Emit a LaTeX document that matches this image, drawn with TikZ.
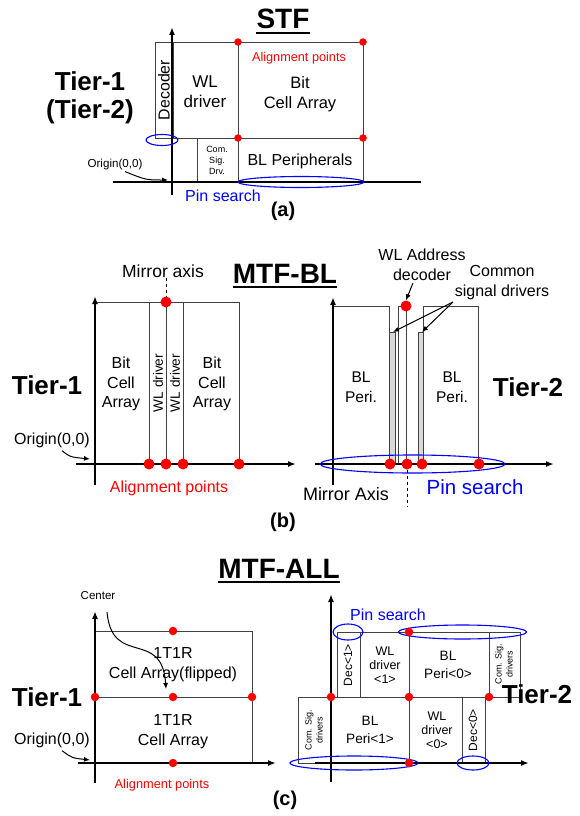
\documentclass[tikz,border=0pt]{standalone}
\usepackage{fontspec}
\setmainfont{Liberation Sans}
\usepackage{tikz}
\usepackage{xcolor}
\usetikzlibrary{shapes,arrows.meta,positioning,calc}

\tikzset{
    box/.style={draw=black!75, line width=0.8pt},
    bar/.style={draw=black!75, line width=0.8pt, fill=black!15},
    axis/.style={-{Latex[length=8pt,width=6pt]}, line width=1.8pt},
    pointer/.style={-{Latex[length=6pt,width=5pt]}, line width=1pt},
    dot/.style={circle, fill=red, inner sep=0pt, minimum size=#1},
    dot/.default=8pt,
    pin/.style={draw=blue, line width=1.1pt},
    txt/.style 2 args={align=center, inner sep=0pt, font=\fontsize{#1}{#2}\selectfont},
    tier/.style={align=center, inner sep=0pt, font=\fontsize{26}{28}\selectfont\bfseries},
    ttl/.style={anchor=base, inner sep=0pt, font=\fontsize{28}{30}\selectfont\bfseries},
    sub/.style={inner sep=0pt, font=\fontsize{20}{22}\selectfont\bfseries}
}

\begin{document}
\begin{tikzpicture}[x=1pt, y=-1pt]
    \useasboundingbox (0,0) rectangle (579,816);

    \node[ttl] (stf) at (283,29) {STF};
    \draw[line width=2.4pt] ([yshift=-4pt]stf.base west) -- ([yshift=-4pt]stf.base east);

    \draw[box] (155,42) rectangle (173,138);
    \draw[box] (173,42) rectangle (238,138);
    \draw[box] (238,42) rectangle (363,138);
    \draw[box] (197,138) rectangle (238,182);
    \draw[box] (238,138) rectangle (363,182);

    \coordinate (aXs) at (113,182);
    \coordinate (aXe) at (421,182);
    \coordinate (aYs) at (172,195);
    \coordinate (aYe) at (172,27);
    \draw[line width=1.8pt] (aXs) -- (aXe);
    \draw[axis] (aYs) -- (aYe);

    \foreach \p in {(238,42),(363,42),(238,138),(363,138)}
        \node[dot=7.5pt] at \p {};
    \draw[pin] (162,140) ellipse [x radius=16, y radius=5.5];
    \draw[pin] (301,182) ellipse [x radius=63, y radius=5.5];

    \node[tier] (tierA) at (90,98) {Tier-1\\(Tier-2)};
    \node[txt={15.9}{19}, rotate=90] (decA) at (164,90) {Decoder};
    \node[txt={17}{20}] (wlA) at (205,92) {WL\\driver};
    \node[txt={12.7}{15}, text=red] (alignA) at (299,58) {Alignment points};
    \node[txt={16.5}{20}] (cellA) at (300,94) {Bit\\Cell Array};
    \node[txt={9}{11}] (comA) at (217,160) {Com.\\Sig.\\Drv.};
    \node[txt={16}{19}] (blA) at (300,161) {BL Peripherals};
    \node[txt={16}{19}, text=blue] (pinA) at (223,196) {Pin search};
    \node[sub] (subA) at (283,211) {(a)};
    \node[txt={11.6}{14}] (orgA) at (115,164) {Origin(0,0)};
    \coordinate (orgAtip) at (168,180);
    \draw[pointer] ([xshift=10pt,yshift=-2pt]orgA.south) .. controls (146,180) .. (orgAtip);

    \node[ttl] (mtfbl) at (285,283) {MTF-BL};
    \draw[line width=2.4pt] ([yshift=-4pt]mtfbl.base west) -- ([yshift=-4pt]mtfbl.base east);

    \draw[box] (95,302) rectangle (149,464);
    \draw[box] (149,302) rectangle (166,464);
    \draw[box] (166,302) rectangle (183,464);
    \draw[box] (183,302) rectangle (239,464);

    \coordinate (bXs) at (76,464);
    \coordinate (bXe) at (296,464);
    \coordinate (bYs) at (95,485);
    \coordinate (bYe) at (95,296);
    \draw[axis] (bXs) -- (bXe);
    \draw[axis] (bYs) -- (bYe);

    \foreach \p in {(149,464),(166,464),(183,464),(239,464)}
        \node[dot=11pt] at \p {};
    \node[dot=11pt] (mirL) at (166,302) {};
    \node[txt={17.5}{20}] (mirAx) at (163,271) {Mirror axis};
    \draw[dashed, line width=0.6pt] (mirAx.south -| mirL) -- (mirL);

    \node[tier] (tierB) at (47,385) {Tier-1};
    \node[txt={16}{19.5}] (cellB1) at (121,384) {Bit\\Cell\\Array};
    \node[txt={16}{19.5}] (cellB2) at (212,384) {Bit\\Cell\\Array};
    \node[txt={13.6}{16}, rotate=90] (wlB1) at (158,383) {WL driver};
    \node[txt={13.6}{16}, rotate=90] (wlB2) at (175,383) {WL driver};
    \node[txt={16}{19}] (orgB) at (52,440) {Origin(0,0)};
    \coordinate (orgBtip) at (90,459);
    \draw[pointer] ([xshift=10pt,yshift=-3pt]orgB.south) .. controls (70,457) .. (orgBtip);
    \node[txt={16}{19}, text=red] (alignB) at (169,488) {Alignment points};

    \draw[box] (333,306) rectangle (389,464);
    \draw[bar] (389,332) rectangle (395,464);
    \draw[box] (398,306) rectangle (406,464);
    \draw[bar] (418,332) rectangle (423,464);
    \draw[box] (423,306) rectangle (478,464);

    \coordinate (cXs) at (315,464);
    \coordinate (cXe) at (554,464);
    \coordinate (cYs) at (333,485);
    \coordinate (cYe) at (333,297);
    \draw[axis] (cXs) -- (cXe);
    \draw[axis] (cYs) -- (cYe);

    \draw[pin] (412.5,464) ellipse [x radius=92.5, y radius=9];
    \foreach \p in {(390,464),(422,464),(479,464)}
        \node[dot=11pt] at \p {};
    \node[dot=11pt] (mirR) at (407,464) {};
    \node[dot=11pt] (wlDec) at (406,306) {};
    \coordinate (mirEnd) at (407,507);
    \draw[dashed, line width=0.6pt] (mirR) -- (mirEnd);

    \node[txt={15.5}{20}] (blB1) at (361,387) {BL\\Peri.};
    \node[txt={15.5}{20}] (blB2) at (452,387) {BL\\Peri.};
    \node[tier] (tierB2) at (528,387) {Tier-2};
    \node[txt={20.5}{24}, text=blue] (pinB) at (475,487) {Pin search};
    \node[txt={18}{21}] (mirAxR) at (346,494) {Mirror Axis};
    \node[txt={16}{20}] (decB) at (422,265) {WL Address\\decoder};
    \draw[pointer] (413,283) -- (wlDec.north);
    \node[txt={16}{20}] (comB) at (502,283) {Common\\signal drivers};
    \coordinate (comB1) at (393,332);
    \coordinate (comB2) at (422,332);
    \draw[pointer] (453,302) -- (comB1);
    \draw[pointer] (453,302) -- (comB2);
    \node[sub] (subB) at (283,522) {(b)};

    \node[ttl] (mtfall) at (279,578) {MTF-ALL};
    \draw[line width=2.4pt] ([yshift=-4pt]mtfall.base west) -- ([yshift=-4pt]mtfall.base east);

    \draw[box] (95,631) rectangle (252,697);
    \draw[box] (95,697) rectangle (252,763);

    \coordinate (dXs) at (78,763);
    \coordinate (dXe) at (276,763);
    \coordinate (dYs) at (95,783);
    \coordinate (dYe) at (95,611);
    \draw[axis] (dXs) -- (dXe);
    \draw[axis] (dYs) -- (dYe);

    \foreach \p in {(173,631),(95,697),(252,697),(173,763)}
        \node[dot=8.5pt] at \p {};
    \node[dot=8.5pt] (ctr) at (173,697) {};

    \node[txt={16}{20}] (cellC1) at (173,665) {1T1R\\Cell Array(flipped)};
    \node[txt={16}{20}] (cellC2) at (173,732) {1T1R\\Cell Array};
    \node[txt={11.5}{14}] (ctrTxt) at (98,596) {Center};
    \coordinate (ctrTip) at (166,689);
    \draw[pointer] (107,612) .. controls (112,668) and (162,628) .. (ctrTip);
    \node[tier] (tierC) at (47,697) {Tier-1};
    \node[txt={16}{19}] (orgC) at (52,740) {Origin(0,0)};
    \coordinate (orgCtip) at (90,760);
    \draw[pointer] ([xshift=10pt,yshift=-3pt]orgC.south) .. controls (72,758) .. (orgCtip);
    \node[txt={12.8}{15}, text=red] (alignC) at (162,785) {Alignment points};
    \node[sub] (subC) at (285,800) {(c)};

    \draw[box] (337,632) rectangle (360,697);
    \draw[box] (360,632) rectangle (409,697);
    \draw[box] (409,632) rectangle (489,697);
    \draw[box] (489,632) rectangle (520,697);
    \draw[box] (298,697) rectangle (331,763);
    \draw[box] (331,697) rectangle (409,763);
    \draw[box] (409,697) rectangle (462,763);
    \draw[box] (462,697) rectangle (485,763);

    \coordinate (eXs) at (315,763);
    \coordinate (eXe) at (529,763);
    \coordinate (eYs) at (331,782);
    \coordinate (eYe) at (331,594);
    \draw[axis] (eXs) -- (eXe);
    \draw[axis] (eYs) -- (eYe);

    \draw[pin] (348,632) ellipse [x radius=15, y radius=8];
    \draw[pin] (462.5,632) ellipse [x radius=64, y radius=7];
    \draw[pin] (354,763) ellipse [x radius=64, y radius=7];
    \draw[pin] (473,763) ellipse [x radius=16, y radius=7];
    \foreach \p in {(409,632),(331,697),(409,697),(489,697),(409,763)}
        \node[dot=8.5pt] at \p {};

    \node[txt={16}{19}, text=blue] (pinC) at (388,615) {Pin search};
    \node[txt={12}{14}, rotate=90] (dec1) at (348,665) {Dec<1>};
    \node[txt={12.5}{14}] (wl1) at (385,665) {WL\\driver\\<1>};
    \node[txt={13.6}{18}] (bl0) at (448,665) {BL\\Peri<0>};
    \node[txt={9}{11}, rotate=90] (com0) at (504,664) {Com. Sig.\\drivers};
    \node[txt={9}{11}, rotate=90] (com1) at (314,730) {Com. Sig.\\drivers};
    \node[txt={13.6}{18}] (bl1) at (370,730) {BL\\Peri<1>};
    \node[txt={12.5}{14}] (wl0) at (437,730) {WL\\driver\\<0>};
    \node[txt={12}{14}, rotate=90] (dec0) at (473,730) {Dec<0>};
    \node[tier] (tierC2) at (537,694) {Tier-2};
\end{tikzpicture}
\end{document}
